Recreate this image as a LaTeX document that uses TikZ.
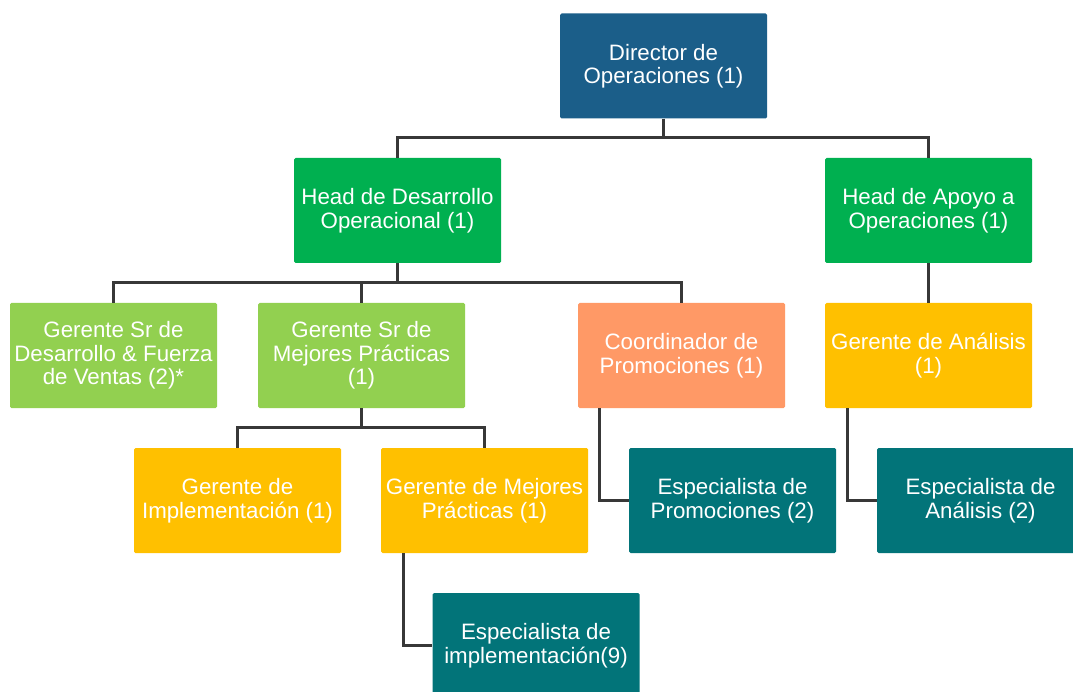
\documentclass[tikz,border=0pt]{standalone}
\usepackage{fontspec}
\setmainfont{Liberation Sans}
\definecolor{cdir}{HTML}{1B5E89}
\definecolor{chead}{HTML}{00B050}
\definecolor{clight}{HTML}{92D050}
\definecolor{csalmon}{HTML}{FF9966}
\definecolor{camber}{HTML}{FFC000}
\definecolor{cteal}{HTML}{027479}
\definecolor{cline}{HTML}{383838}
\begin{document}
\begin{tikzpicture}[x=1pt,y=-1pt,
  box/.style={rectangle, rounded corners=1.5pt, minimum width=207pt, minimum height=105pt,
    inner sep=0pt, align=center, text=white,
    font=\fontsize{22.3pt}{23.5pt}\selectfont},
  conn/.style={draw=cline, line width=3pt}]
\clip (0,0) rectangle (1073,692);
\fill[white] (0,0) rectangle (1073,692);
\node[box, fill=cdir] (dir) at (663.5,66) {Director de\\Operaciones (1)};
\node[box, fill=chead] (hdes) at (397.5,210.5) {Head de Desarrollo\\Operacional (1)};
\node[box, fill=chead] (hapo) at (928.5,210.5) {Head de Apoyo a\\Operaciones (1)};
\node[box, fill=clight] (gsrdes) at (113.5,355.5) {Gerente Sr de\\Desarrollo \& Fuerza\\de Ventas (2)*};
\node[box, fill=clight] (gsrmej) at (361.5,355.5) {Gerente Sr de\\Mejores Prácticas\\(1)};
\node[box, fill=csalmon] (coord) at (681.5,355.5) {Coordinador de\\Promociones (1)};
\node[box, fill=camber] (ganal) at (928.5,355.5) {Gerente de Análisis\\(1)};
\node[box, fill=camber] (gimpl) at (237.5,500.5) {Gerente de\\Implementación (1)};
\node[box, fill=camber] (gmej) at (484.5,500.5) {Gerente de Mejores\\Prácticas (1)};
\node[box, fill=cteal] (eprom) at (732.5,500.5) {Especialista de\\Promociones (2)};
\node[box, fill=cteal] (eanal) at (980.5,500.5) {Especialista de\\Análisis (2)};
\node[box, fill=cteal] (eimpl) at (536,645.5) {Especialista de\\implementación(9)};
% connectors
\draw[conn] (dir.south) -- ++(0,20);
\draw[conn] (hdes.north) -- ++(0,-20) -| (hapo.north);
\draw[conn] (hdes.south) -- ++(0,20);
\draw[conn] (gsrdes.north) -- ++(0,-20) -| (coord.north);
\draw[conn] (gsrmej.north) -- ++(0,-20);
\draw[conn] (hapo.south) -- (ganal.north);
\draw[conn] (gsrmej.south) -- ++(0,20);
\draw[conn] (gimpl.north) -- ++(0,-20) -| (gmej.north);
\draw[conn] ([xshift=22pt]coord.south west) |- (eprom.west);
\draw[conn] ([xshift=23pt]ganal.south west) |- (eanal.west);
\draw[conn] ([xshift=23pt]gmej.south west) |- (eimpl.west);
\end{tikzpicture}
\end{document}
